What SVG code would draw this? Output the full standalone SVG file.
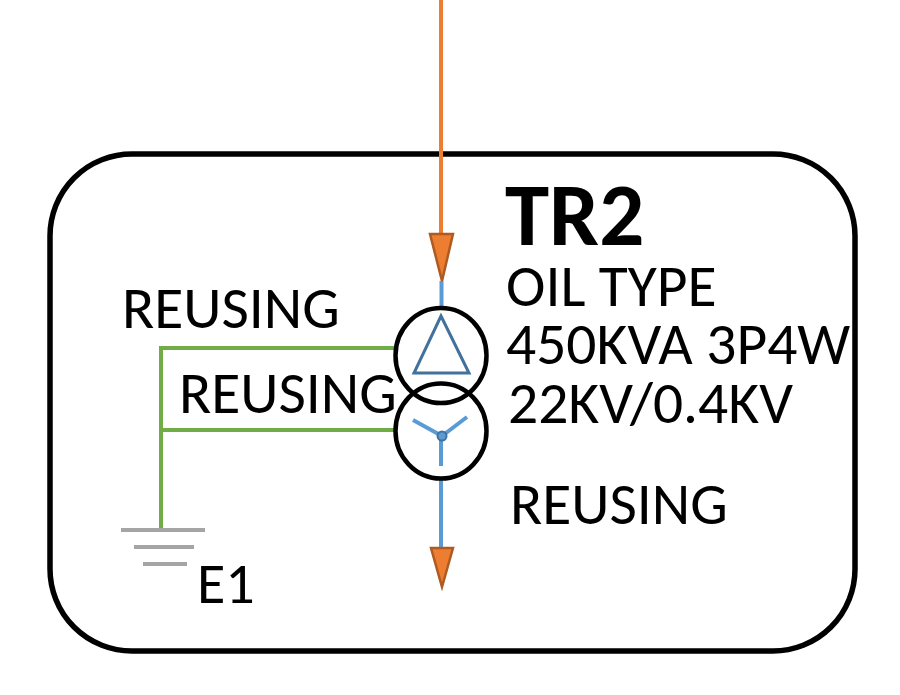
<svg xmlns="http://www.w3.org/2000/svg" width="900" height="695" viewBox="0 0 900 695">
<style>
text{font-family:Carlito,Calibri,Lato,"Open Sans","Liberation Sans",sans-serif;font-size:59.5px;fill:#000}
.g{stroke:#70ad47;stroke-width:4;fill:none}
.b{stroke:#5b9bd5;stroke-width:4;fill:none}
.e{stroke:#a5a5a5;stroke-width:4;fill:none}
.c{stroke:#000;stroke-width:4.5;fill:none}
.t{fill:#ed7d31;stroke:#ae5a21;stroke-width:2.5}
</style>
<rect width="900" height="695" fill="#fff"/>
<g id="enclosure"><rect x="50" y="154" width="805" height="497" rx="82" ry="82" fill="none" stroke="#000" stroke-width="5.500"/></g>
<g id="connectors">
<path class="b" d="M441.500 281V308M441 479V550"/>
<path d="M441 0V236" stroke="#ed7d31" stroke-width="4" fill="none"/>
<path class="t" d="M430 234H453L442 281Z"/>
<path class="t" d="M431 548H453L442 587Z"/>
<path class="g" d="M394 348H161V530M161 430H394"/>
</g>
<g id="earth"><path class="e" d="M121 530H205M134 547H194M143 564H187"/><text x="197" y="603" style="font-size:58px">E1</text></g>
<g id="transformer">
<ellipse class="c" cx="441" cy="355.500" rx="45.500" ry="47.500"/>
<ellipse class="c" cx="441" cy="431" rx="45.500" ry="47.500"/>
<path d="M441 316L469 373H414Z" fill="none" stroke="#41719c" stroke-width="3"/>
<path class="b" d="M442 436L413 420M442 436L467 417M441 436V466"/>
<circle cx="442" cy="436" r="4.500" fill="#5b9bd5" stroke="#41719c" stroke-width="2"/>
</g>
<g id="labels">
<text x="505" y="245" style="font-size:89px;font-weight:bold">TR2</text>
<text x="506" y="306">OIL TYPE</text>
<text x="506" y="364">450KVA 3P4W</text>
<text x="508" y="423">22KV/0.4KV</text>
<text x="510" y="524">REUSING</text>
<text x="122" y="328">REUSING</text>
<text x="179" y="413">REUSING</text>
</g>
</svg>
